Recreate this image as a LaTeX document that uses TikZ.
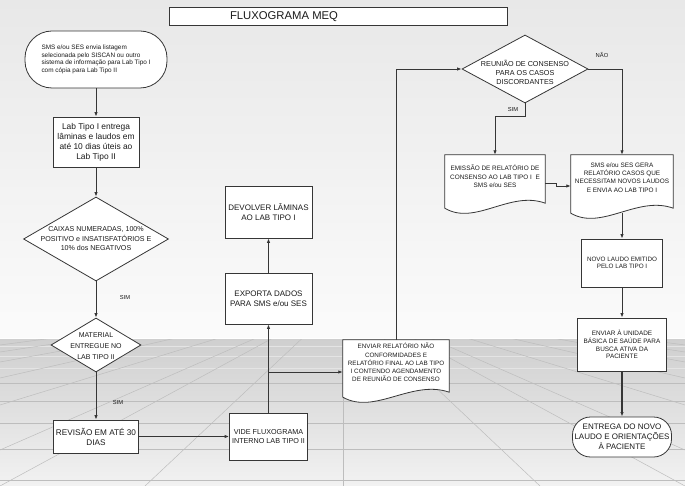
\documentclass[tikz,border=0pt]{standalone}
\usepackage{fontspec}
\setmainfont{Liberation Sans}
\usetikzlibrary{shapes.geometric,arrows.meta,calc}
\pgfdeclarelayer{background}
\pgfdeclarelayer{docs}
\pgfsetlayers{background,docs,main}
\definecolor{linec}{HTML}{363636}
\definecolor{textc}{HTML}{1A1A1A}
\definecolor{wallTop}{HTML}{E8E8E8}
\definecolor{wallBot}{HTML}{FBFBFB}
\definecolor{floorTop}{HTML}{CFCFCF}
\definecolor{floorMid}{HTML}{E8E8E8}
\definecolor{floorBot}{HTML}{F2F2F2}
\definecolor{gridc}{HTML}{BDBDBD}
\definecolor{gridlt}{HTML}{E4E4E4}
\newcommand{\fs}[2]{\fontsize{#1}{#2}\selectfont}
\newcommand{\docoutline}[2]{%
  \path[draw=linec, fill=white, line width=0.8pt]
    (#1.north west) -- (#1.north east) -- ($(#1.south east)+(0,#2-5)$)
    .. controls ($(#1.south west)!0.65!(#1.south east)+(0,#2-18)$)
       and ($(#1.south west)!0.3!(#1.south east)+(0,#2+18)$) ..
    ($(#1.south west)+(0,#2)$) -- cycle;}
\begin{document}
\begin{tikzpicture}[x=1pt,y=-1pt,
  box/.style={draw=linec, fill=white, line width=0.8pt, inner sep=1pt, align=center, text=textc},
  term/.style={box},
  dia/.style={diamond, draw=linec, fill=white, line width=0.8pt, inner sep=0pt},
  docn/.style={inner sep=1pt, align=center, text=textc},
  txt/.style={inner sep=0pt, align=center, text=textc},
  lbl/.style={inner sep=0pt, text=textc, font=\fs{5.8}{7}},
  arr/.style={-{Latex[length=4.5pt,width=3.4pt]}, draw=linec, line width=0.85pt},
  gridl/.style={draw=gridc, line width=0.5pt}]
\useasboundingbox (0,0) rectangle (685,486);
\begin{pgfonlayer}{background}
  \shade[top color=wallTop, bottom color=wallBot] (0,0) rectangle (685,338);
  \shade[top color=floorTop, middle color=floorMid, bottom color=floorBot] (0,338) rectangle (685,486);
  \begin{scope}
    \clip (0,338) rectangle (685,486);
    \foreach \y in {346,356,368}
      \draw[draw=gridlt, line width=0.6pt] (0,\y) -- (685,\y);
    \foreach \y in {383,401,423,449,480}
      \draw[gridl] (0,\y) -- (685,\y);
    \foreach \a/\b in {0/345,0/352,0/362,0/378,0/405,0/450,0/486,145/486,343/486,540/486,685/486,685/450,685/405,685/378,685/362,685/352,685/345}
      \draw[gridl] (343,300) -- (\a,\b);
  \end{scope}
  \draw[draw=white, line width=0.8pt] (0,338) -- (685,338);
\end{pgfonlayer}

% title
\node[box, minimum width=338, minimum height=18] (title) at (338,16) {};
\node[txt, font=\fs{11.3}{13}] (titletext) at (284,16.5) {FLUXOGRAMA MEQ};

% left column
\node[term, rounded corners=27, minimum width=142, minimum height=57, font=\fs{6.4}{7.6}, align=left] (start) at (96,59.5)
  {SMS e/ou SES envia listagem\\selecionada pelo SISCAN ou outro\\sistema de informação para Lab Tipo I\\com cópia para Lab Tipo II};
\node[box, minimum width=86, minimum height=50, font=\fs{8.4}{10}] (lab1) at (96,142)
  {Lab Tipo I entrega\\lâminas e laudos em\\até 10 dias úteis ao\\Lab Tipo II};
\node[dia, minimum width=145, minimum height=84] (d1) at (96,239) {};
\node[txt, font=\fs{7.1}{9.5}] (d1t) at (96,239) {CAIXAS NUMERADAS, 100\%\\POSITIVO e INSATISFATÓRIOS E\\10\% dos NEGATIVOS};
\node[lbl] (sim1) at (125,298) {SIM};
\node[dia, minimum width=90, minimum height=54] (d2) at (96,345) {};
\node[txt, font=\fs{7}{11}] (d2t) at (96,346) {MATERIAL\\ENTREGUE NO\\LAB TIPO II};
\node[lbl] (sim2) at (118,403) {SIM};
\node[box, minimum width=85, minimum height=33, font=\fs{8.2}{10}] (rev) at (96,436.5) {REVISÃO EM ATÉ 30\\DIAS};

% middle column
\node[box, minimum width=78, minimum height=47, font=\fs{7.2}{9}] (vide) at (268.5,436.5) {VIDE FLUXOGRAMA\\INTERNO LAB TIPO II};
\node[box, minimum width=87, minimum height=51, font=\fs{8}{10}] (exp) at (268.5,298.5) {EXPORTA DADOS\\PARA SMS e/ou SES};
\node[box, minimum width=87, minimum height=52, font=\fs{8}{10}] (dev) at (268.5,212) {DEVOLVER LÂMINAS\\AO LAB TIPO I};
\coordinate (brk) at (268.5,372);

\node[docn, minimum width=106, minimum height=45, font=\fs{6.3}{8.2}] (env) at (396,362.5)
  {ENVIAR RELATÓRIO NÃO\\CONFORMIDADES E\\RELATÓRIO FINAL AO LAB TIPO\\I CONTENDO AGENDAMENTO\\DE REUNIÃO DE CONSENSO};
\begin{pgfonlayer}{docs}\docoutline{env}{12}\end{pgfonlayer}

% right part
\node[dia, minimum width=126, minimum height=68] (reu) at (525,69) {};
\node[txt, font=\fs{7.2}{9}] (reut) at (525,72.5) {REUNIÃO DE CONSENSO\\PARA OS CASOS\\DISCORDANTES};
\node[lbl] (nao) at (602,55) {NÃO};
\node[lbl] (sim3) at (513,110) {SIM};
\node[docn, minimum width=100, minimum height=43, font=\fs{6.4}{8.5}] (emi) at (495,176.5)
  {EMISSÃO DE RELATÓRIO DE\\CONSENSO AO LAB TIPO I\ \ E\\SMS e/ou SES};
\begin{pgfonlayer}{docs}\docoutline{emi}{10}\end{pgfonlayer}
\node[docn, minimum width=102, minimum height=45, font=\fs{6.4}{8.3}] (sms) at (622,177.5)
  {SMS e/ou SES GERA\\RELATÓRIO CASOS QUE\\NECESSITAM NOVOS LAUDOS\\E ENVIA AO LAB TIPO I};
\begin{pgfonlayer}{docs}\docoutline{sms}{13}\end{pgfonlayer}
\node[box, minimum width=81, minimum height=48, font=\fs{6.3}{7.5}] (nov) at (622,263) {NOVO LAUDO EMITIDO\\PELO LAB TIPO I};
\node[box, minimum width=89, minimum height=53, font=\fs{6.4}{7.8}] (ubs) at (622,344.5)
  {ENVIAR À UNIDADE\\BÁSICA DE SAÚDE PARA\\BUSCA ATIVA DA\\PACIENTE};
\node[box, rounded corners=18, minimum width=99, minimum height=40, font=\fs{8}{10}] (ent) at (622,437)
  {ENTREGA DO NOVO\\LAUDO E ORIENTAÇÕES\\À PACIENTE};

% connectors
\draw[arr] (start) -- (lab1);
\draw[arr] (lab1) -- (d1);
\draw[arr] (d1) -- (d2);
\draw[arr] (d2) -- (rev);
\draw[arr] (rev) -- (vide);
\draw[arr] (vide) -- (exp);
\draw[arr] (exp) -- (dev);
\draw[arr] (brk) -- (brk -| env.west);
\draw[arr] (env.north) |- (reu.west);
\draw[arr] (reu.east) -| (sms.north);
\draw[arr] (reu.south) -- ++(0,13) -| (emi.north);
\draw[arr] ($(emi.east)+(0,6.5)$) -- ++(11,0) |- ($(sms.west)+(0,8.5)$);
\draw[arr] ($(sms.south)+(0,13)$) -- (nov);
\draw[arr] (nov) -- (ubs);
\draw[arr, line width=1.4pt] (ubs) -- (ent);
\end{tikzpicture}
\end{document}
